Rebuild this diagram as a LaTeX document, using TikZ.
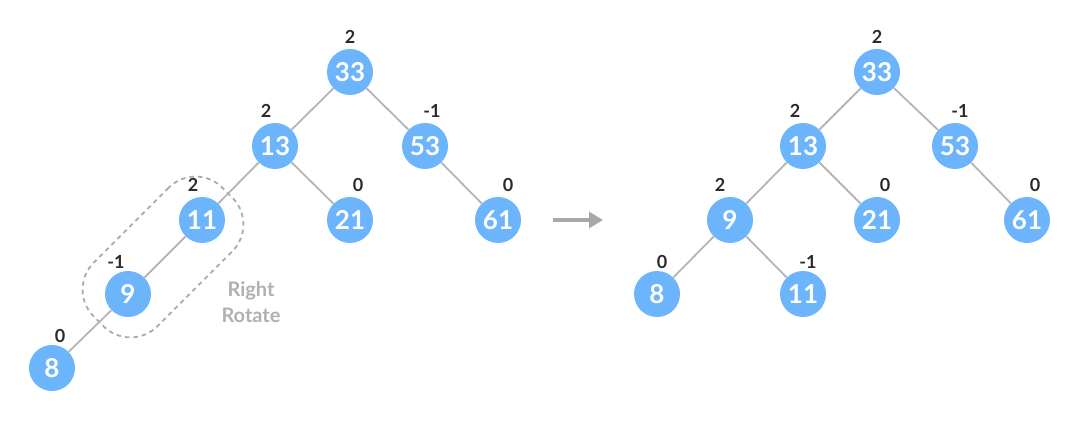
\documentclass[tikz,border=0pt]{standalone}
\usepackage{fontspec}
\setmainfont{Lato}
\usetikzlibrary{arrows.meta}
\definecolor{nodeblue}{HTML}{6CB4FC}
\definecolor{edgegray}{HTML}{B5B5B5}
\definecolor{dashgray}{HTML}{AAAAAA}
\definecolor{balcol}{HTML}{2B2B2B}
\definecolor{rotgray}{HTML}{B0B0B0}
\definecolor{arrgray}{HTML}{A8A8A8}
\begin{document}
\begin{tikzpicture}[x=1pt,y=-1pt,
  tn/.style={circle, fill=nodeblue, text=white, minimum size=46pt, inner sep=0pt,
    font=\bfseries\fontsize{26}{26}\selectfont},
  bal/.style={text=balcol, inner sep=0pt, font=\bfseries\fontsize{18}{18}\selectfont},
  edge/.style={draw=edgegray, line width=1.8pt},
  capsule/.style={draw=dashgray, line width=1.8pt, dash pattern=on 4.5pt off 4pt, rounded corners=38pt, minimum width=182pt, minimum height=90pt},
  rotlbl/.style={text=rotgray, align=center, font=\bfseries\fontsize{20}{26}\selectfont},
  arr/.style={draw=arrgray, line width=3.5pt, -{Triangle[length=14pt,width=16pt]}}]
\useasboundingbox (0,0) rectangle (1080,422);
% left tree
\node[capsule, rotate=45] (caps) at (163,257) {};
\node[tn] (a33) at (350,72) {33};
\node[tn] (a13) at (275,146) {13};
\node[tn] (a53) at (425,146) {53};
\node[tn] (a11) at (202,220) {11};
\node[tn] (a21) at (350,220) {21};
\node[tn] (a61) at (498,220) {61};
\node[tn] (a9) at (128,294) {9};
\node[tn] (a8) at (52,368) {8};
\draw[edge] (a33) -- (a13);
\draw[edge] (a33) -- (a53);
\draw[edge] (a13) -- (a11);
\draw[edge] (a13) -- (a21);
\draw[edge] (a53) -- (a61);
\draw[edge] (a11) -- (a9);
\draw[edge] (a9) -- (a8);
\node[bal] (ba33) at (350,37) {2};
\node[bal] (ba13) at (266,111) {2};
\node[bal] (ba53) at (432,111) {-1};
\node[bal] (ba11) at (193,185) {2};
\node[bal] (ba21) at (358,185) {0};
\node[bal] (ba61) at (508,185) {0};
\node[bal] (ba9) at (116,262) {-1};
\node[bal] (ba8) at (60,336) {0};
\node[rotlbl] (rot) at (251,302) {Right\\Rotate};
% arrow
\coordinate (arrS) at (553,220);
\coordinate (arrE) at (603,220);
\draw[arr] (arrS) -- (arrE);
% right tree
\node[tn] (b33) at (877,72) {33};
\node[tn] (b13) at (803,146) {13};
\node[tn] (b53) at (955,146) {53};
\node[tn] (b9) at (730,220) {9};
\node[tn] (b21) at (877,220) {21};
\node[tn] (b61) at (1027,220) {61};
\node[tn] (b8) at (657,294) {8};
\node[tn] (b11) at (803,294) {11};
\draw[edge] (b33) -- (b13);
\draw[edge] (b33) -- (b53);
\draw[edge] (b13) -- (b9);
\draw[edge] (b13) -- (b21);
\draw[edge] (b53) -- (b61);
\draw[edge] (b9) -- (b8);
\draw[edge] (b9) -- (b11);
\node[bal] (bb33) at (877,37) {2};
\node[bal] (bb13) at (795,111) {2};
\node[bal] (bb53) at (960,111) {-1};
\node[bal] (bb9) at (720,185) {2};
\node[bal] (bb21) at (885,185) {0};
\node[bal] (bb61) at (1035,185) {0};
\node[bal] (bb8) at (662,262) {0};
\node[bal] (bb11) at (808,262) {-1};
\end{tikzpicture}
\end{document}
